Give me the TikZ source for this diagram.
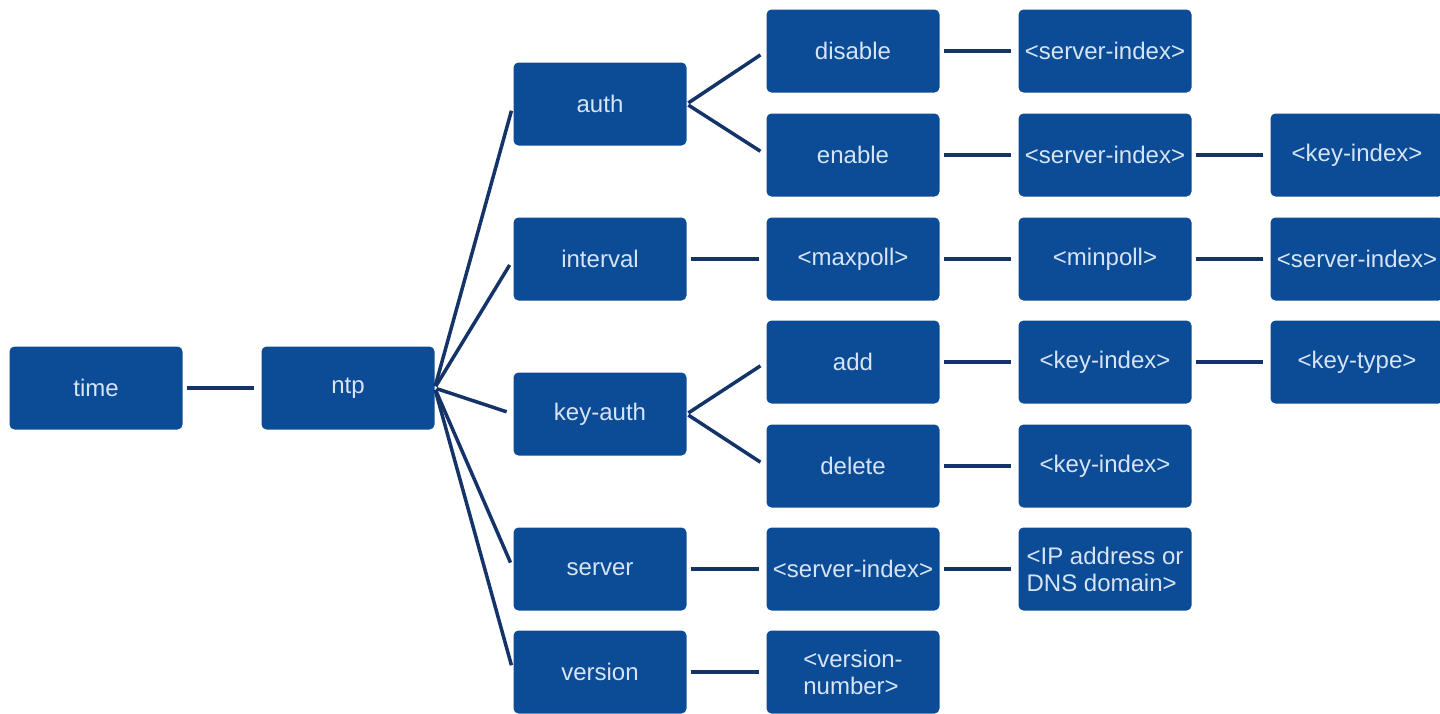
\documentclass[tikz,border=0pt]{standalone}
\usepackage{fontspec}
\setmainfont{Liberation Sans}
\usetikzlibrary{positioning,calc}
\definecolor{ntpBox}{RGB}{12,75,150}
\definecolor{ntpLine}{RGB}{20,52,105}
\definecolor{ntpText}{RGB}{214,228,245}
\begin{document}
\begin{tikzpicture}[x=1pt, y=-1pt,
      box/.style={rounded corners=5pt, fill=ntpBox, minimum width=173pt, minimum height=83pt,
                  inner sep=2pt, align=center, font=\fontsize{24}{27}\selectfont\color{ntpText}},
      link/.style={ntpLine, line width=3.5pt, shorten <=4pt, shorten >=7pt},
      fan/.style={ntpLine, line width=3.5pt, shorten <=2pt, shorten >=7pt}
    ]
    \useasboundingbox (0,0) rectangle (1440,713);

    % column 1-2
    \node[box] (time) at (96,388) {time};
    \node[box] (ntp) at (348,388) {ntp};

    % column 3
    \node[box] (auth) at (600,104) {auth};
    \node[box] (interval) at (600,259) {interval};
    \node[box] (keyauth) at (600,414) {key-auth};
    \node[box] (server) at (600,569) {server};
    \node[box] (version) at (600,672) {version};

    % column 4
    \node[box] (disable) at (853,51) {disable};
    \node[box] (enable) at (853,155) {enable};
    \node[box] (maxpoll) at (853,259) {<maxpoll>};
    \node[box] (add) at (853,362) {add};
    \node[box] (delete) at (853,466) {delete};
    \node[box] (srvidx) at (853,569) {<server-index>};
    \node[box,align=left] (vernum) at (853,672) {<version-\\number>};

    % column 5
    \node[box] (disidx) at (1105,51) {<server-index>};
    \node[box] (enidx) at (1105,155) {<server-index>};
    \node[box] (minpoll) at (1105,259) {<minpoll>};
    \node[box] (addkey) at (1105,362) {<key-index>};
    \node[box] (delkey) at (1105,466) {<key-index>};
    \node[box,align=left] (ipaddr) at (1105,569) {<IP address or\\DNS domain>};

    % column 6
    \node[box] (enkey) at (1357,155) {<key-index>};
    \node[box] (intidx) at (1357,259) {<server-index>};
    \node[box] (keytype) at (1357,362) {<key-type>};

    % straight links
    \draw[link] (time) -- (ntp);
    \draw[link] (interval) -- (maxpoll);
    \draw[link] (server) -- (srvidx);
    \draw[link] (version) -- (vernum);
    \draw[link] (disable) -- (disidx);
    \draw[link] (enable) -- (enidx);
    \draw[link] (maxpoll) -- (minpoll);
    \draw[link] (add) -- (addkey);
    \draw[link] (delete) -- (delkey);
    \draw[link] (srvidx) -- (ipaddr);
    \draw[link] (enidx) -- (enkey);
    \draw[link] (minpoll) -- (intidx);
    \draw[link] (addkey) -- (keytype);

    % fans
    \foreach \child in {auth,interval,keyauth,server,version}
      \draw[fan] (ntp.east) -- (\child.west);
    \foreach \child in {disable,enable}
      \draw[fan] (auth.east) -- (\child.west);
    \foreach \child in {add,delete}
      \draw[fan] (keyauth.east) -- (\child.west);
  \end{tikzpicture}
\end{document}
